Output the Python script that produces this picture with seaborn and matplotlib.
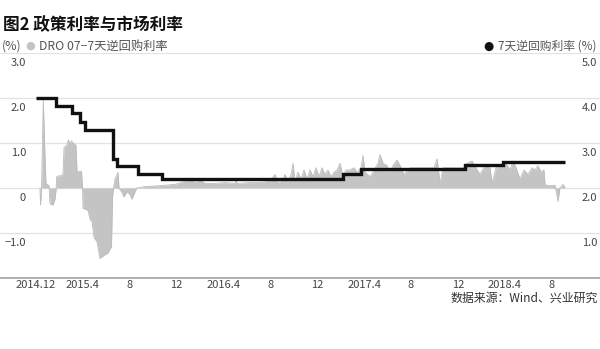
import matplotlib
matplotlib.use("Agg")
import matplotlib.pyplot as plt
import matplotlib.transforms as mtrans
import seaborn as sns
import pandas as pd

# ---------------- data (x = months since 2014.12) ----------------
tick_pos = [0, 4, 8, 12, 16, 20, 24, 28, 32, 36, 40, 44]
tick_labels = ["2014.12", "2015.4", "8", "12", "2016.4", "8", "12",
               "2017.4", "8", "12", "2018.4", "8"]

left_ticks = [3, 2, 1, 0, -1]
left_labels = ["3.0", "2.0", "1.0", "0", "\u22121.0"]
right_ticks = [5, 4, 3, 2, 1]
right_labels = ["5.0", "4.0", "3.0", "2.0", "1.0"]

# 7-day reverse repo rate (right axis, %), step changes
policy_x = [0.0, 1.71, 3.05, 3.75, 4.18, 6.60, 6.94, 8.73, 10.73,
            26.19, 27.70, 36.60, 39.85, 45.14]
policy_v = [4.00, 3.83, 3.68, 3.48, 3.30, 2.64, 2.48, 2.30, 2.20,
            2.32, 2.42, 2.50, 2.57, 2.57]

# DR007 - 7-day reverse repo spread (left axis, %)
dro_x = [0.34, 0.38, 0.47, 0.55, 0.62, 0.73, 0.85, 1.11, 1.19, 1.45, 1.62,
         1.71, 1.77, 2.05, 2.30, 2.39, 2.65, 2.77, 2.90, 3.03, 3.16, 3.41,
         3.50, 3.88, 3.97, 4.01, 4.44, 4.61, 4.78, 4.95, 5.20, 5.38, 5.46,
         5.80, 6.14, 6.44, 6.53, 6.61, 6.74, 7.00, 7.08, 7.34, 7.51, 7.76,
         8.02, 8.19, 8.45, 8.62, 9.30, 10.58, 11.86, 12.71, 13.14, 13.57,
         13.99, 14.42, 15.27, 16.13, 16.98, 17.06, 17.15, 18.26, 19.11,
         19.97, 20.39, 20.65, 21.08, 21.25, 21.50, 21.76, 21.93, 22.10,
         22.35, 22.61, 22.87, 23.12, 23.38, 23.63, 23.89, 24.15, 24.40,
         24.66, 24.91, 25.17, 25.43, 25.68, 25.94, 26.19, 26.45, 26.79,
         27.13, 27.39, 27.73, 27.90, 28.07, 28.50, 28.75, 29.18, 29.35,
         29.61, 29.95, 30.20, 30.46, 30.80, 31.06, 31.40, 31.91, 32.76,
         33.96, 34.22, 34.47, 34.73, 35.75, 36.43, 36.77, 37.20, 37.54,
         37.88, 38.31, 38.74, 38.91, 39.25, 39.59, 40.10, 40.44, 40.70,
         40.96, 41.30, 41.64, 41.98, 42.32, 42.58, 42.83, 43.09, 43.34,
         43.43, 43.86, 44.28, 44.54, 44.71, 44.97, 45.14]
dro_v = [0.00, -0.38, -0.05, 1.00, 1.96, 1.00, 0.10, 0.05, -0.35, -0.38,
         -0.25, -0.05, 0.26, 0.27, 0.30, 0.90, 0.96, 1.07, 0.98, 1.05, 1.00,
         0.95, 0.37, 0.37, 0.00, -0.45, -0.50, -0.70, -0.75, -1.10, -1.20,
         -1.45, -1.57, -1.50, -1.45, -1.30, -0.20, 0.00, 0.20, 0.35, 0.00,
         -0.10, -0.20, -0.08, -0.15, -0.25, -0.08, 0.00, 0.03, 0.05, 0.08,
         0.15, 0.20, 0.12, 0.18, 0.10, 0.10, 0.12, 0.10, 0.20, 0.10, 0.12,
         0.12, 0.15, 0.30, 0.12, 0.20, 0.30, 0.15, 0.30, 0.55, 0.15, 0.35,
         0.20, 0.40, 0.20, 0.40, 0.25, 0.45, 0.25, 0.45, 0.30, 0.40, 0.25,
         0.35, 0.40, 0.55, 0.25, 0.40, 0.40, 0.45, 0.35, 0.45, 0.72, 0.35,
         0.25, 0.35, 0.55, 0.74, 0.55, 0.50, 0.35, 0.50, 0.62, 0.50, 0.30,
         0.45, 0.45, 0.45, 0.65, 0.10, 0.45, 0.45, 0.45, 0.55, 0.60, 0.45,
         0.30, 0.50, 0.45, 0.10, 0.45, 0.50, 0.55, 0.40, 0.60, 0.45, 0.20,
         0.40, 0.30, 0.45, 0.40, 0.50, 0.35, 0.40, 0.07, 0.05, 0.06, -0.30,
         0.00, 0.08, 0.00]

title = "图2 政策利率与市场利率"
legend_left = "DRO 07\u22127天逆回购利率"
legend_right = "7天逆回购利率 (%)"
source = "数据来源：Wind、兴业研究"

# ---------------- style ----------------
sns.set_theme(style="white")
FAM = ["Noto Sans CJK SC", "DejaVu Sans"]
plt.rcParams["font.family"] = FAM
plt.rcParams["axes.unicode_minus"] = True

W, H = 600, 349
fig = plt.figure(figsize=(6.0, 3.49), dpi=100)
fig.patch.set_facecolor("white")


def fx(px):
    return px / W


def fy(py):
    return 1 - py / H


ax = fig.add_axes([0.0, fy(277.7), 1.0, fy(53.3) - fy(277.7)])
ax.set_facecolor("none")
xmin, xmax = -36 / 11.72, 564 / 11.72
ax.set_xlim(xmin, xmax)
ax.set_ylim(-2, 3)

dro = pd.DataFrame({"x": dro_x, "v": dro_v})
ax.fill_between(dro["x"], dro["v"], 0, color="#c4c4c4", lw=0, zorder=2)
sns.lineplot(data=dro, x="x", y="v", ax=ax, color="#bbbbbb", lw=0.6,
             sort=False, estimator=None, zorder=2)

ax.set_yticks([-2, -1, 0, 1, 2, 3])
ax.yaxis.grid(True, color="#e2e2e2", lw=0.9, zorder=0)
ax.xaxis.grid(False)
ax.tick_params(axis="y", left=False, labelleft=False)
ax.set_xticks(tick_pos)
ax.set_xticklabels(tick_labels)
ax.tick_params(axis="x", length=0, pad=1.5, labelsize=8, colors="#444444")
for lab in ax.get_xticklabels():
    lab.set_family(FAM)
for s in ["top", "left", "right"]:
    ax.spines[s].set_visible(False)
ax.spines["bottom"].set_color("#a9a9a9")
ax.spines["bottom"].set_linewidth(1.3)
ax.set_xlabel("")
ax.set_ylabel("")

ax2 = ax.twinx()
ax2.set_ylim(0, 5)
pol = pd.DataFrame({"x": policy_x, "v": policy_v})
sns.lineplot(data=pol, x="x", y="v", ax=ax2, color="#111111", lw=2.4,
             drawstyle="steps-post", sort=False, estimator=None,
             solid_joinstyle="miter", solid_capstyle="butt")
ax2.set_yticks([])
ax2.set_xlabel("")
ax2.set_ylabel("")
for s in ax2.spines.values():
    s.set_visible(False)
ax2.set_xlim(xmin, xmax)

# y labels sitting just below their grid lines
lt = mtrans.offset_copy(ax.get_yaxis_transform(), fig=fig, x=0, y=-10,
                        units="dots")
for v, t in zip(left_ticks, left_labels):
    ax.text(26 / W, v, t, transform=lt, ha="right", va="center",
            fontsize=8, color="#444444", family=FAM)
rt = mtrans.offset_copy(ax2.get_yaxis_transform(), fig=fig, x=0, y=-10,
                        units="dots")
for v, t in zip(right_ticks, right_labels):
    ax2.text(597 / W, v, t, transform=rt, ha="right", va="center",
             fontsize=8, color="#444444", family=FAM)

# title, legend, source
fig.text(fx(3), fy(25), title, ha="left", va="center", fontsize=12,
         fontweight="bold", color="#111111", family=FAM)
fig.text(fx(2), fy(46), "(%)", ha="left", va="center", fontsize=8.8,
         color="#555555", family=FAM)
fig.text(fx(30), fy(46), "\u25cf", ha="center", va="center", fontsize=8,
         color="#c4c4c4", family=["DejaVu Sans"])
fig.text(fx(39), fy(46), legend_left, ha="left", va="center", fontsize=8.8,
         color="#555555", family=FAM)
fig.text(fx(488), fy(46), "\u25cf", ha="center", va="center", fontsize=8.5,
         color="#111111", family=["DejaVu Sans"])
fig.text(fx(597), fy(46), legend_right, ha="right", va="center",
         fontsize=8.5, color="#555555", family=FAM)
fig.text(fx(598), fy(298), source, ha="right", va="center", fontsize=8.6,
         color="#333333", family=FAM)

fig.savefig("out.png", dpi=100, facecolor="white")
